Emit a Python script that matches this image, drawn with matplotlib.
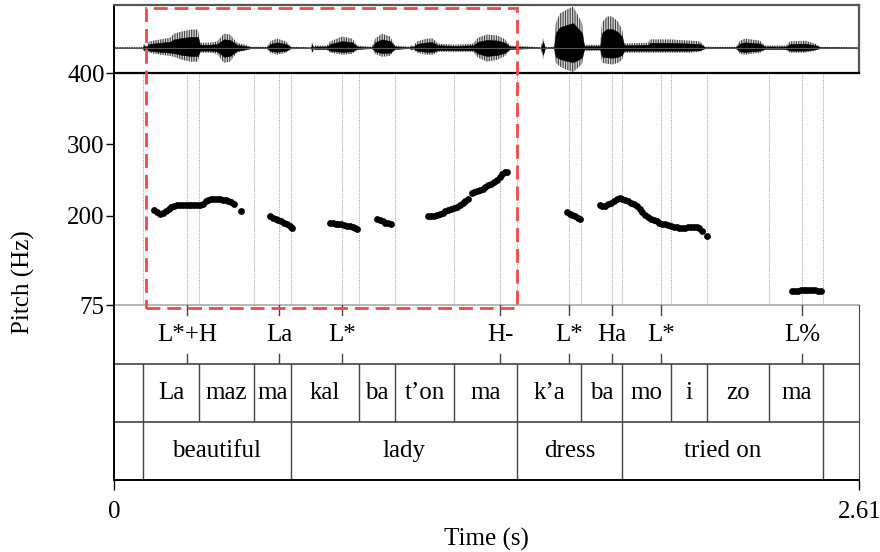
import matplotlib
matplotlib.use('Agg')
import matplotlib.pyplot as plt
import matplotlib.transforms as mtransforms
import matplotlib.patches as patches
import numpy as np

plt.rcParams['font.family'] = ['Liberation Serif', 'DejaVu Serif']
plt.rcParams['font.size'] = 18
plt.rcParams['hatch.linewidth'] = 0.8

T_END = 2.61

# --- waveform envelope (time s, upper amp, lower amp) ---
wave_t = [0.0, 0.100, 0.104, 0.111, 0.122, 0.160, 0.195, 0.209, 0.234, 0.269, 0.293,
          0.300, 0.336, 0.360, 0.384, 0.405, 0.430, 0.458, 0.479, 0.535, 0.546, 0.570,
          0.602, 0.619, 0.689, 0.693, 0.696, 0.703, 0.745, 0.756, 0.798, 0.833, 0.851,
          0.903, 0.914, 0.938, 0.966, 0.983, 1.036, 1.041, 1.046, 1.060, 1.095, 1.116,
          1.134, 1.194, 1.257, 1.274, 1.306, 1.344, 1.369, 1.386, 1.495, 1.502, 1.509,
          1.540, 1.547, 1.561, 1.586, 1.607, 1.625, 1.639, 1.646, 1.702, 1.709, 1.726,
          1.744, 1.765, 1.779, 1.786, 1.870, 1.877, 1.947, 2.017, 2.052, 2.070, 2.178,
          2.192, 2.210, 2.262, 2.279, 2.353, 2.367, 2.420, 2.455, 2.473, 2.610]
wave_up = [0.01, 0.01, 0.10, 0.02, 0.15, 0.20, 0.24, 0.34, 0.39, 0.44, 0.44,
           0.12, 0.12, 0.15, 0.34, 0.32, 0.12, 0.07, 0.02, 0.02, 0.15, 0.22,
           0.15, 0.02, 0.01, 0.15, 0.02, 0.05, 0.05, 0.15, 0.27, 0.22, 0.05,
           0.02, 0.22, 0.34, 0.27, 0.05, 0.02, 0.07, 0.02, 0.15, 0.22, 0.22,
           0.10, 0.07, 0.10, 0.24, 0.32, 0.29, 0.20, 0.05, 0.01, 0.24, 0.01,
           0.02, 0.61, 0.83, 0.93, 1.00, 0.78, 0.59, 0.07, 0.07, 0.61, 0.76,
           0.76, 0.63, 0.44, 0.10, 0.12, 0.20, 0.20, 0.17, 0.15, 0.02, 0.02,
           0.17, 0.22, 0.17, 0.05, 0.05, 0.15, 0.17, 0.10, 0.02, 0.01]
wave_dn = [0.01, 0.01, 0.10, 0.02, 0.12, 0.17, 0.20, 0.22, 0.29, 0.34, 0.34,
           0.12, 0.12, 0.15, 0.37, 0.34, 0.12, 0.07, 0.02, 0.02, 0.12, 0.17,
           0.12, 0.02, 0.01, 0.15, 0.02, 0.05, 0.05, 0.12, 0.17, 0.15, 0.05,
           0.02, 0.15, 0.22, 0.20, 0.05, 0.02, 0.07, 0.02, 0.12, 0.17, 0.17,
           0.10, 0.10, 0.10, 0.24, 0.34, 0.29, 0.20, 0.05, 0.01, 0.29, 0.01,
           0.02, 0.37, 0.46, 0.54, 0.59, 0.49, 0.39, 0.07, 0.07, 0.37, 0.39,
           0.41, 0.37, 0.29, 0.12, 0.12, 0.12, 0.12, 0.12, 0.10, 0.02, 0.02,
           0.15, 0.17, 0.12, 0.05, 0.05, 0.12, 0.12, 0.07, 0.02, 0.01]

# --- pitch track (time s, Hz) ---
pitch_t = [0.14, 0.15, 0.16, 0.17, 0.18, 0.19, 0.20, 0.21, 0.22, 0.23, 0.24, 0.25,
           0.26, 0.27, 0.28, 0.29, 0.30, 0.31, 0.32, 0.33, 0.34, 0.35, 0.36, 0.37,
           0.38, 0.39, 0.40, 0.41, 0.42, 0.443,
           0.545, 0.555, 0.565, 0.575, 0.585, 0.595, 0.605, 0.615, 0.622,
           0.755, 0.765, 0.775, 0.785, 0.795, 0.805, 0.815, 0.825, 0.835, 0.845, 0.852,
           0.92, 0.93, 0.94, 0.95, 0.96, 0.968,
           1.10, 1.11, 1.12, 1.13, 1.14, 1.15, 1.16, 1.17, 1.18, 1.19, 1.20, 1.21,
           1.22, 1.23, 1.238, 1.252, 1.26, 1.27, 1.28, 1.29, 1.30, 1.31, 1.32, 1.33,
           1.34, 1.35, 1.36, 1.37, 1.375,
           1.585, 1.595, 1.605, 1.615, 1.625, 1.632,
           1.70, 1.71, 1.72, 1.73, 1.74, 1.75, 1.76, 1.77, 1.78, 1.79, 1.80, 1.81,
           1.82, 1.83, 1.84, 1.85, 1.86, 1.87, 1.88, 1.89, 1.90, 1.91, 1.92, 1.93,
           1.94, 1.95, 1.96, 1.97, 1.98, 1.99, 2.00, 2.01, 2.02, 2.03, 2.04, 2.05,
           2.06, 2.075,
           2.375, 2.385, 2.395, 2.405, 2.415, 2.425, 2.435, 2.445, 2.455, 2.465, 2.475]
pitch_hz = [208, 205, 203, 203.5, 206, 209, 212, 214, 215, 214.5, 214.5, 215,
            215, 215, 214.5, 215, 215.5, 217, 220, 222, 223, 223.5, 223, 223,
            222.5, 222, 220.5, 219, 217, 206,
            199, 197, 195, 193.5, 192, 190.5, 188, 185.5, 183,
            189.5, 189.5, 189, 188.5, 188, 187, 186, 185, 184, 183, 182,
            195, 193.5, 192, 190.5, 189.5, 188.5,
            199, 199.5, 200, 201, 202, 204, 206, 207.5, 209, 210.5, 212.5, 215,
            217.5, 220.5, 223, 231.5, 233, 234.5, 236, 238, 240.5, 243, 245, 247.5,
            250, 254, 258, 261, 262,
            205.5, 203, 201, 199, 197.5, 195.5,
            215, 214, 214, 216, 218, 220.5, 223, 224.5, 224, 222, 220, 218,
            216, 213, 209, 205, 201, 198, 195.5, 193.5, 192, 190.5, 189, 188,
            186.5, 185.5, 184.5, 184, 183.5, 183.5, 183.5, 184, 184.3, 184.7, 184.5, 182.5,
            179, 172,
            95, 95, 95.3, 95.5, 96, 96.5, 96.3, 96, 95.5, 95, 94.5]

# --- TextGrid tiers ---
tone_t = [0.256, 0.578, 0.797, 1.352, 1.594, 1.743, 1.914, 2.409]
tone_lab = ['L*+H', 'La', 'L*', 'H-', 'L*', 'Ha', 'L*', 'L%']

syl_bounds = [0.100, 0.298, 0.490, 0.618, 0.858, 0.983, 1.190, 1.412,
              1.636, 1.780, 1.951, 2.077, 2.295, 2.484]
syl_lab = ['La', 'maz', 'ma', 'kal', 'ba', 't\u2019on', 'ma', 'k\u2019a',
           'ba', 'mo', 'i', 'zo', 'ma']

word_bounds = [0.100, 0.618, 1.412, 1.780, 2.484]
word_lab = ['beautiful', 'lady', 'dress', 'tried on']

highlight_t = [0.110, 1.410]

W, H = 880, 552
fig = plt.figure(figsize=(W / 100, H / 100), dpi=100)


def px_axes(top, bottom):
    # axes spanning the plot width between two pixel rows
    return fig.add_axes([114.3 / W, 1 - bottom / H, 745 / W, (bottom - top) / H])


ax_w = px_axes(5, 73)
ax_p = px_axes(73, 305)
ax_tone = px_axes(305, 364)
ax_syl = px_axes(364, 422)
ax_word = px_axes(422, 480)

frame = '#444444'

# waveform: striated outer envelope + dark core
up = np.array(wave_up)
dn = np.array(wave_dn)
ax_w.fill_between(wave_t, -dn, up, facecolor='none', edgecolor='#111111',
                  hatch='|||||||', lw=0)
ax_w.fill_between(wave_t, -dn, up, facecolor='#999999', alpha=0.35, lw=0)
ax_w.fill_between(wave_t, -dn * 0.6, up * 0.6, color='black', lw=0.3)
ax_w.axhline(0, color='#555555', lw=0.8)
ax_w.set_xlim(0, T_END)
ax_w.set_ylim(-0.617, 1.04)
ax_w.set_xticks([])
ax_w.set_yticks([])
for s in ['top', 'right']:
    ax_w.spines[s].set_color('#555555')
    ax_w.spines[s].set_linewidth(1.6)
ax_w.spines['left'].set_color('black')
ax_w.spines['left'].set_linewidth(1.4)
ax_w.spines['bottom'].set_visible(False)

# pitch
all_marks = sorted(set(syl_bounds + tone_t))
for t in all_marks:
    ax_p.axvline(t, color='#aaaaaa', lw=0.8, ls=(0, (1, 1)))
ax_p.plot(pitch_t, pitch_hz, 'o', color='black', ms=4.9, mew=0)
ax_p.set_xlim(0, T_END)
ax_p.set_ylim(75, 400)
ax_p.set_yticks([75, 200, 300, 400])
ax_p.set_xticks([])
ax_p.tick_params(axis='y', length=6, width=1, pad=1, labelsize=18)
ax_p.spines['right'].set_visible(False)
ax_p.spines['top'].set_color('black')
ax_p.spines['top'].set_linewidth(1.6)
ax_p.spines['left'].set_linewidth(1.4)
ax_p.spines['bottom'].set_color('#aaaaaa')
ax_p.spines['bottom'].set_linewidth(1.2)
ax_p.set_ylabel('Pitch (Hz)', fontsize=18)
ax_p.yaxis.set_label_coords(-0.107, 0.1)

# tiers
for ax in (ax_tone, ax_syl, ax_word):
    ax.set_xlim(0, T_END)
    ax.set_ylim(0, 1)
    ax.set_xticks([])
    ax.set_yticks([])
    ax.patch.set_alpha(0)
    ax.spines['left'].set_color('black')
    ax.spines['left'].set_linewidth(1.4)
    ax.spines['right'].set_color(frame)
    ax.spines['top'].set_visible(False)
    ax.spines['bottom'].set_color(frame)
    ax.spines['bottom'].set_linewidth(1.2)

for t, lab in zip(tone_t, tone_lab):
    ax_tone.plot([t, t], [1, 0.83], color=frame, lw=1)
    ax_tone.plot([t, t], [0, 0.17], color=frame, lw=1)
    ax_tone.text(t, 0.49, lab, ha='center', va='center')

for t in syl_bounds:
    ax_syl.axvline(t, color=frame, lw=1)
for a, b, lab in zip(syl_bounds[:-1], syl_bounds[1:], syl_lab):
    ax_syl.text((a + b) / 2, 0.5, lab, ha='center', va='center')

for t in word_bounds:
    ax_word.axvline(t, color=frame, lw=1)
for a, b, lab in zip(word_bounds[:-1], word_bounds[1:], word_lab):
    ax_word.text((a + b) / 2, 0.5, lab, ha='center', va='center')
ax_word.spines['bottom'].set_color('black')
ax_word.spines['bottom'].set_linewidth(1.4)

# time axis ends
ax_word.set_xticks([0, T_END])
ax_word.set_xticklabels(['0', '2.61'])
ax_word.tick_params(axis='x', length=7, width=1, pad=8, labelsize=18)
ax_word.set_xlabel('Time (s)', fontsize=18, labelpad=4)

# red dashed highlight box (time range, from waveform top to pitch bottom)
tr = mtransforms.blended_transform_factory(ax_p.transData, fig.transFigure)
y0 = 1 - 308 / H
y1 = 1 - 7.5 / H
rect = patches.Rectangle((highlight_t[0], y0), highlight_t[1] - highlight_t[0], y1 - y0,
                         transform=tr, fill=False, ec='#f04848', lw=2,
                         ls=(0, (5, 2.5)), clip_on=False, zorder=10)
fig.add_artist(rect)

fig.savefig('out.png', dpi=100)
